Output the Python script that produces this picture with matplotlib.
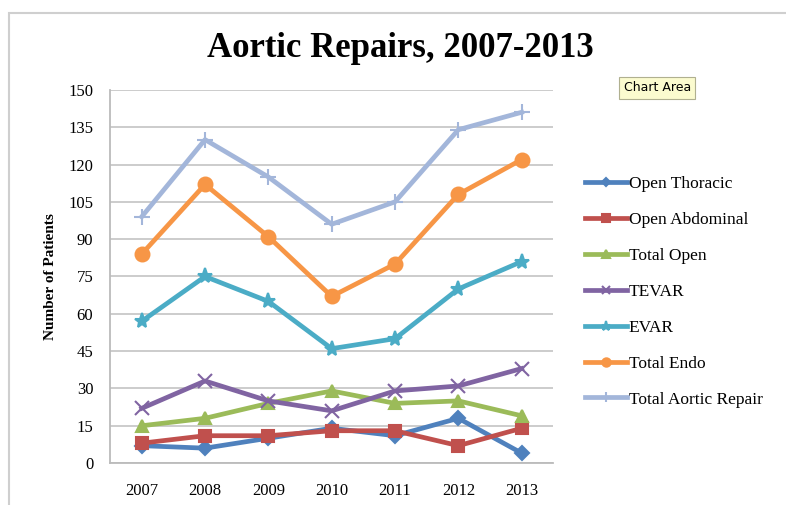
import matplotlib.pyplot as plt
from matplotlib.patches import Rectangle

years = ["2007", "2008", "2009", "2010", "2011", "2012", "2013"]
open_thoracic = [7, 6, 10, 14, 11, 18, 4]
open_abdominal = [8, 11, 11, 13, 13, 7, 14]
total_open = [15, 18, 24, 29, 24, 25, 19]
tevar = [22, 33, 25, 21, 29, 31, 38]
evar = [57, 75, 65, 46, 50, 70, 81]
total_endo = [84, 112, 91, 67, 80, 108, 122]
total_aortic = [99, 130, 115, 96, 105, 134, 141]

series_names = ["Open Thoracic", "Open Abdominal", "Total Open", "TEVAR",
                "EVAR", "Total Endo", "Total Aortic Repair"]
series_values = [open_thoracic, open_abdominal, total_open, tevar,
                 evar, total_endo, total_aortic]
colors = ["#4F81BD", "#C0504D", "#9BBB59", "#8064A2",
          "#4BACC6", "#F79646", "#A3B6DA"]
markers = ["D", "s", "^", "x", "*", "o", "+"]
msizes = [7, 9, 9, 10, 11, 10, 11]

plt.rcParams["font.family"] = ["Liberation Serif", "DejaVu Serif"]

fig = plt.figure(figsize=(7.86, 5.05), dpi=100)
ax = fig.add_axes([0.140, 0.083, 0.564, 0.739])

x = list(range(len(years)))
for name, vals, c, m, ms in zip(series_names, series_values, colors, markers, msizes):
    ax.plot(x, vals, color=c, lw=3.4, marker=m, markersize=ms,
            markerfacecolor=c, markeredgecolor=c, markeredgewidth=1.5,
            label=name, solid_joinstyle="round")

ax.set_xlim(-0.5, 6.5)
ax.set_ylim(0, 150)
ax.set_yticks(range(0, 151, 15))
ax.set_xticks(x)
ax.set_xticklabels(years)
ax.tick_params(length=0, labelsize=12)
ax.tick_params(axis="x", pad=14)
ax.tick_params(axis="y", pad=12)
ax.yaxis.grid(True, color="#C8C8C8", lw=1.3)
ax.set_axisbelow(True)
for s in ["top", "right"]:
    ax.spines[s].set_visible(False)
ax.spines["left"].set_color("#BBBBBB")
ax.spines["bottom"].set_color("#BBBBBB")
ax.spines["left"].set_linewidth(1.3)
ax.spines["bottom"].set_linewidth(1.3)
ax.set_ylabel("Number of Patients", fontsize=11, fontweight="bold", labelpad=8)

fig.text(0.51, 0.903, "Aortic Repairs, 2007-2013", ha="center", va="center",
         fontsize=25, fontweight="bold")

leg = fig.legend(loc="upper left", bbox_to_anchor=(0.725, 0.683), frameon=False,
                 fontsize=12.5, handlelength=2.4, handletextpad=0.1,
                 labelspacing=1.14, markerscale=0.6)

fig.text(0.8365, 0.826, "Chart Area", ha="center", va="center", fontsize=9,
         family="DejaVu Sans",
         bbox=dict(boxstyle="square,pad=0.35", fc="#FBFBCF", ec="#B0B090", lw=0.8))

fig.patches.append(Rectangle((0.011, -0.01), 1.0, 0.985, transform=fig.transFigure,
                             fill=False, ec="#CFCFCF", lw=1.5))

fig.savefig("out.png", dpi=100)
